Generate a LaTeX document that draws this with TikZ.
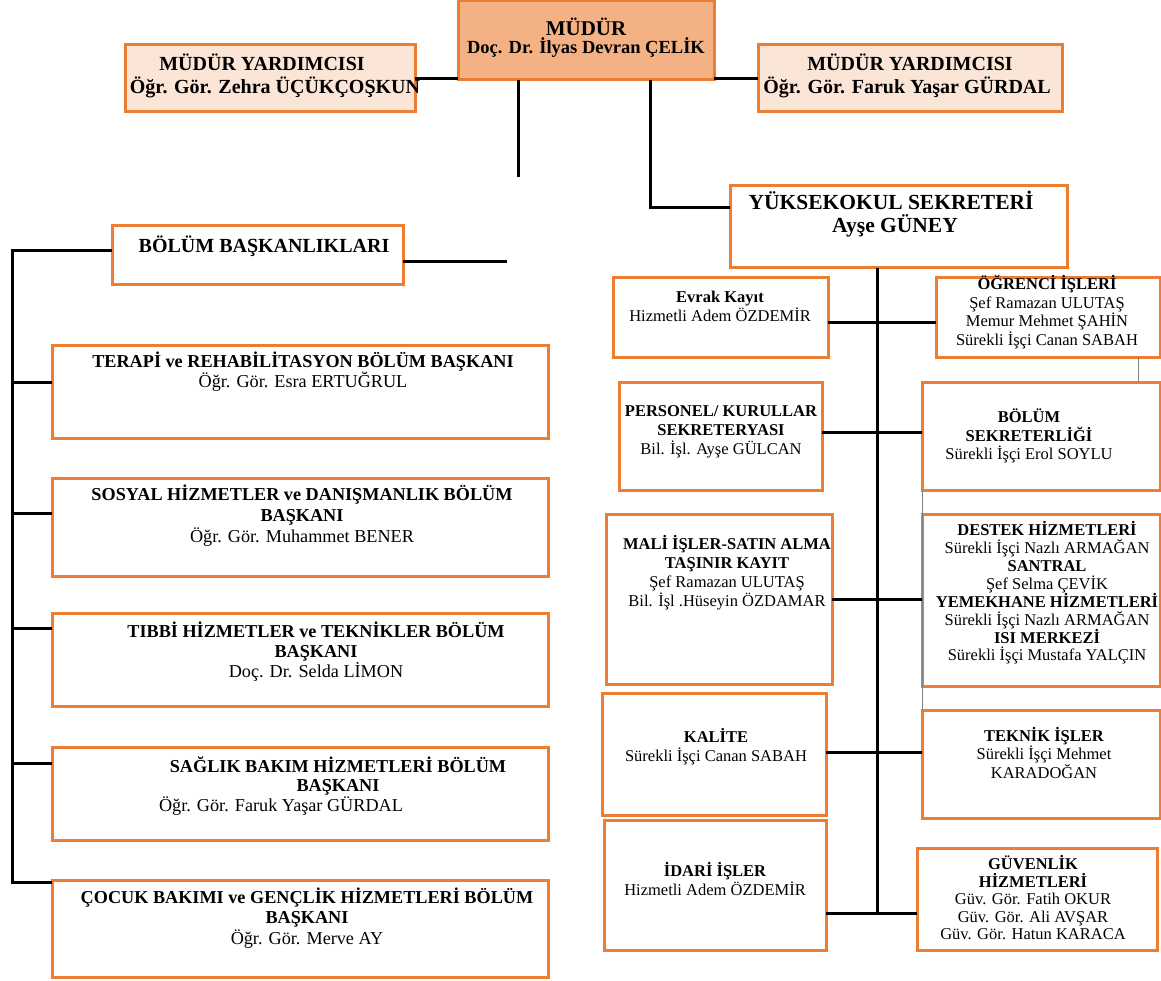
\documentclass[tikz,border=0pt]{standalone}
\usepackage{fontspec}
\setmainfont{Liberation Serif}
\definecolor{bord}{RGB}{237,125,49}
\definecolor{fillM}{RGB}{244,177,131}
\definecolor{fillY}{RGB}{251,229,214}
\newcommand\placebox[6]{\node[#2,minimum width=#5pt-#3pt,minimum height=#6pt-#4pt] (#1) at ({(#3+#5)/2},{(#4+#6)/2}) {};}
\begin{document}
\begin{tikzpicture}[x=1pt,y=-1pt,
  obox/.style={draw=bord,line width=3pt,inner sep=0pt,outer sep=0pt,fill=white},
  mbox/.style={obox,fill=fillM},
  ybox/.style={obox,fill=fillY},
  conn/.style={draw=black,line width=3pt},
  thinc/.style={draw=gray,line width=1pt},
  txt/.style={align=center,inner sep=0pt},
  fs/.style 2 args={font=\fontsize{#1}{#2}\selectfont}]
\useasboundingbox (0,0) rectangle (1161,981);
% top level
\placebox{mudur}{mbox}{458}{1}{714}{80}
\node[txt,fs={21}{22}] (tmud) at (586,27) {\bfseries MÜDÜR};
\node[txt,fs={18.5}{20}] (tmud2) at (586,48) {\bfseries Doç. Dr. İlyas Devran ÇELİK};
\placebox{yard1}{ybox}{125}{45}{415}{112}
\node[txt,fs={20}{22}] (ty1) at (262,62) {\bfseries MÜDÜR YARDIMCISI};
\node[txt,fs={20}{22}] (ty1b) at (275,87) {\bfseries Öğr. Gör. Zehra ÜÇÜKÇOŞKUN};
\placebox{yard2}{ybox}{758}{45}{1062}{112}
\node[txt,fs={20}{22}] (ty2) at (910,62) {\bfseries MÜDÜR YARDIMCISI};
\node[txt,fs={20}{22}] (ty2b) at (907,87) {\bfseries Öğr. Gör. Faruk Yaşar GÜRDAL};
\placebox{yuksek}{obox}{730}{186}{1067}{268}
\node[txt,fs={21.5}{22}] (tyk) at (891,200) {\bfseries YÜKSEKOKUL SEKRETERİ};
\node[txt,fs={21.5}{22}] (tyk2) at (895,226) {\bfseries Ayşe GÜNEY};
\placebox{bb}{obox}{112}{226}{403}{285}
\node[txt,fs={20}{22}] (tbb) at (264,246) {\bfseries BÖLÜM BAŞKANLIKLARI};
% left column
\placebox{terapi}{obox}{52}{345}{548}{438}
\node[txt,fs={18.2}{20}] (tter) at (303,372) {\bfseries TERAPİ ve REHABİLİTASYON BÖLÜM BAŞKANI\\Öğr. Gör. Esra ERTUĞRUL};
\placebox{sosyal}{obox}{52}{478}{548}{576}
\node[txt,fs={18.2}{21}] (tsos) at (302,516) {\bfseries SOSYAL HİZMETLER ve DANIŞMANLIK BÖLÜM\\\bfseries BAŞKANI\\Öğr. Gör. Muhammet BENER};
\placebox{tibbi}{obox}{52}{613}{548}{706}
\node[txt,fs={18.2}{20}] (ttib) at (316,652) {\bfseries TIBBİ HİZMETLER ve TEKNİKLER BÖLÜM\\\bfseries BAŞKANI\\Doç. Dr. Selda LİMON};
\placebox{saglik}{obox}{52}{747}{548}{840}
\node[txt,fs={18.2}{19}] (tsag) at (338,776) {\bfseries SAĞLIK BAKIM HİZMETLERİ BÖLÜM\\\bfseries BAŞKANI};
\node[txt,fs={18.2}{19}] (tsag2) at (281,806) {Öğr. Gör. Faruk Yaşar GÜRDAL};
\placebox{cocuk}{obox}{52}{880}{548}{977}
\node[txt,fs={18.2}{20.5}] (tcoc) at (307,918) {\bfseries ÇOCUK BAKIMI ve GENÇLİK HİZMETLERİ BÖLÜM\\\bfseries BAŞKANI\\Öğr. Gör. Merve AY};
% right section, left column
\placebox{evrak}{obox}{613}{278}{828}{357}
\node[txt,fs={16.5}{19}] (tev) at (720,306) {\bfseries Evrak Kayıt\\Hizmetli Adem ÖZDEMİR};
\placebox{pers}{obox}{619}{382}{822}{490}
\node[txt,fs={16.5}{19}] (tper) at (721,432) {\bfseries PERSONEL/ KURULLAR\\\bfseries SEKRETERYASI\\Bil. İşl. Ayşe GÜLCAN};
\placebox{mali}{obox}{606}{514}{832}{684}
\node[txt,fs={16.5}{19}] (tmal) at (727,573) {\bfseries MALİ İŞLER-SATIN ALMA\\\bfseries TAŞINIR KAYIT\\Şef Ramazan ULUTAŞ\\Bil. İşl .Hüseyin ÖZDAMAR};
\placebox{kalite}{obox}{602}{693}{826}{815}
\node[txt,fs={16.5}{19}] (tkal) at (716,747) {\bfseries KALİTE\\Sürekli İşçi Canan SABAH};
\placebox{idari}{obox}{604}{820}{826}{950}
\node[txt,fs={16.5}{19}] (tida) at (715,879) {\bfseries İDARİ İŞLER\\Hizmetli Adem ÖZDEMİR};
% right section, right column
\placebox{ogr}{obox}{936}{278}{1160}{357}
\node[txt,fs={16.5}{18.7}] (togr) at (1047,312) {\bfseries ÖĞRENCİ İŞLERİ\\Şef Ramazan ULUTAŞ\\Memur Mehmet ŞAHİN\\Sürekli İşçi Canan SABAH};
\placebox{bsek}{obox}{922}{382}{1160}{490}
\node[txt,fs={16.5}{18.5}] (tbs) at (1029,436) {\bfseries BÖLÜM\\\bfseries SEKRETERLİĞİ\\Sürekli İşçi Erol SOYLU};
\placebox{destek}{obox}{922}{514}{1160}{686}
\node[txt,fs={16.5}{17.9}] (tdes) at (1047,593) {\bfseries DESTEK HİZMETLERİ\\Sürekli İşçi Nazlı ARMAĞAN\\\bfseries SANTRAL\\Şef Selma ÇEVİK\\\bfseries YEMEKHANE HİZMETLERİ\\Sürekli İşçi Nazlı ARMAĞAN\\\bfseries ISI MERKEZİ\\Sürekli İşçi Mustafa YALÇIN};
\placebox{teknik}{obox}{922}{710}{1160}{818}
\node[txt,fs={16.5}{18.5}] (ttek) at (1044,753) {\bfseries TEKNİK İŞLER\\Sürekli İşçi Mehmet\\KARADOĞAN};
\placebox{guv}{obox}{917}{848}{1157}{950}
\node[txt,fs={16.5}{17.5}] (tguv) at (1033,898) {\bfseries GÜVENLİK\\\bfseries HİZMETLERİ\\Güv. Gör. Fatih OKUR\\Güv. Gör. Ali AVŞAR\\Güv. Gör. Hatun KARACA};
% connectors top
\draw[conn] (yard1.east) -- (yard1.east -| mudur.west);
\draw[conn] (mudur.east |- yard2.west) -- (yard2.west);
\coordinate (v1) at (518,177);
\draw[conn] (mudur.south -| v1) -- (v1);
\coordinate (v2) at (650,208);
\draw[conn] (mudur.south -| v2) -- (v2) -- (v2 -| yuksek.west);
% left spine
\coordinate (spT) at (12,251);
\coordinate (spB) at (12,882);
\draw[conn] (bb.west |- spT) -- (spT) -- (spB) -- (spB -| cocuk.west);
\draw[conn] (12,382) -- (terapi.west |- 12,382);
\draw[conn] (12,513) -- (sosyal.west |- 12,513);
\draw[conn] (12,628) -- (tibbi.west |- 12,628);
\draw[conn] (12,763) -- (saglik.west |- 12,763);
\coordinate (bbr) at (507,262);
\draw[conn] (bb.east |- bbr) -- (bbr);
% right spine
\coordinate (rs) at (877,913);
\draw[conn] (yuksek.south -| rs) -- (rs);
\draw[conn] (evrak.east |- 0,323) -- (ogr.west |- 0,323);
\draw[conn] (pers.east |- 0,432) -- (bsek.west |- 0,432);
\draw[conn] (mali.east |- 0,599) -- (destek.west |- 0,599);
\draw[conn] (kalite.east |- 0,752) -- (teknik.west |- 0,752);
\draw[conn] (idari.east |- 0,913) -- (guv.west |- 0,913);
% thin grey links
\draw[thinc] ([xshift=90pt]ogr.south) -- ([xshift=97pt]bsek.north);
\draw[thinc] (bsek.south west) -- (teknik.north west);
\end{tikzpicture}
\end{document}
